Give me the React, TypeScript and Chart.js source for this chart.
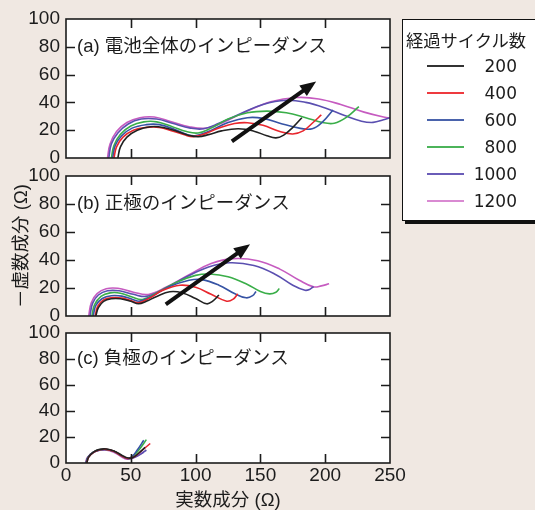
import React, { useEffect, useRef } from "react";
import { Chart, registerables } from "chart.js";

Chart.register(...registerables);

// ---------- data ----------
const cycles = ["200", "400", "600", "800", "1000", "1200"];
const lineColors = ["#222222", "#e8262d", "#3653a4", "#3aae49", "#5a4fb0", "#c65bc0"];
const legendColors = ["#333333", "#ee3a3f", "#4a63ac", "#4cb45a", "#6a5cb8", "#d98ad2"];

const xTicks = [0, 50, 100, 150, 200, 250];
const yTicks = [0, 20, 40, 60, 80, 100];

const panelLabels = ["(a) 電池全体のインピーダンス", "(b) 正極のインピーダンス", "(c) 負極のインピーダンス"];
const xTitle = "実数成分 (Ω)";
const yTitle = "－虚数成分 (Ω)";
const legendTitle = "経過サイクル数";

// (a) whole cell
const cell200 = [[40, 0], [42, 8], [47, 15], [55, 20], [65, 22.5], [75, 22], [86, 19], [95, 16.2], [102, 15.3], [110, 16.8], [120, 19.5], [133, 21], [145, 19.3], [155, 16], [162, 14.5], [168, 16.5], [175, 22], [182, 29]];
const cell400 = [[37, 0], [39, 8], [44, 15], [52, 20], [62, 22], [72, 22], [82, 19.5], [92, 16.5], [98, 15.4], [106, 17], [118, 21.5], [130, 24.8], [140, 25.4], [152, 23.5], [165, 19], [175, 17.3], [183, 19.5], [190, 25], [197, 31]];
const cell600 = [[36, 0], [38, 9], [43, 16], [51, 21.5], [62, 24], [72, 24], [84, 20.5], [93, 17], [99.5, 16], [110, 19], [125, 25.5], [140, 29], [152, 28.5], [165, 25], [180, 21.5], [190, 21], [198, 26], [206, 34.5]];
const cell800 = [[35, 0], [37, 9], [42, 17], [50, 23], [60, 26], [70, 26], [82, 22.5], [93, 19], [102, 18], [112, 21.5], [125, 28], [140, 32.5], [155, 33.7], [170, 32.5], [185, 29], [198, 25.5], [207, 25], [216, 29], [226, 37]];
const cell1000 = [[33, 0], [35, 10], [40, 18], [48, 24.5], [58, 28], [70, 28], [82, 25], [96, 21.5], [106, 21], [118, 25], [135, 32], [152, 38.5], [170, 41.5], [185, 40], [200, 36], [215, 30.5], [228, 26.5], [237, 25.6], [245, 27.5], [250, 29]];
const cell1200 = [[32, 0], [34, 10], [39, 19], [47, 25.5], [57, 29], [68, 29.5], [80, 26.5], [95, 22.5], [108, 21.4], [120, 25], [138, 33], [158, 40.5], [178, 43.5], [195, 42.5], [212, 38.5], [230, 33], [245, 29.5], [252, 28.5]];

// (b) positive electrode
const pos200 = [[23, 0], [25, 6], [29, 10.5], [35, 12.3], [42, 12.3], [50, 10.5], [56, 8.7], [62, 10.5], [70, 14], [80, 17.3], [90, 16.5], [100, 12.5], [108.5, 8.7], [113, 10.5], [118, 15]];
const pos400 = [[22.5, 0], [24.5, 7], [29, 11.5], [35, 13], [43, 12.8], [50, 11], [56, 9.5], [64, 12.5], [75, 18.5], [88, 22], [100, 20.5], [112, 15.5], [124, 10.6], [129, 12], [132.5, 15.8]];
const pos600 = [[21, 0], [23, 7.5], [28, 12.5], [35, 14.5], [43, 14.2], [51, 12], [57, 10.6], [66, 14], [80, 21], [95, 25.5], [105, 26], [118, 22], [130, 16], [139, 13], [144, 14.5], [146.6, 17.5]];
const pos800 = [[20, 0], [22, 8], [27, 14], [34, 16.5], [42, 16.3], [51, 13.5], [59, 11.8], [70, 16.5], [85, 24], [100, 29], [111, 30], [125, 28], [140, 22.5], [150, 17.5], [157, 15.8], [162, 17], [164.6, 19.6]];
const pos1000 = [[18.5, 0], [20.5, 9], [25, 15], [32, 18], [41, 18], [52, 15.5], [62, 14], [75, 19], [92, 27.5], [110, 35], [126.5, 38], [145, 36], [162, 29.5], [175, 22], [184.4, 18.4], [188, 19], [191, 21]];
const pos1200 = [[17.5, 0], [19.5, 9.5], [24, 16], [31, 19.5], [40, 19.8], [52, 17], [63.5, 15.4], [77, 20.5], [95, 29.5], [112, 37.5], [129, 41], [148, 39.5], [165, 33.5], [180, 25.5], [191, 20.8], [197, 21.5], [203, 23]];

// (c) negative electrode
const neg200 = [[16, 0], [17.5, 4.5], [21.5, 8.5], [26, 10.5], [31, 10.8], [37, 9.3], [43, 6], [48, 3.8], [52, 4.5], [56, 7.5], [61, 12]];
const neg400 = [[16, 0], [17.5, 4.5], [21.5, 8.3], [26, 10.2], [31, 10.5], [37, 9], [43, 5.5], [48, 3.5], [53, 5], [59, 10], [65, 15]];
const neg600 = [[15.5, 0], [17, 4.5], [21, 8.3], [26, 10.2], [31, 10.5], [37, 9], [43, 5.5], [47.5, 3.5], [51, 5], [55, 10], [60, 17.5]];
const neg800 = [[15.5, 0], [17, 4.5], [21, 8.3], [26, 10.2], [31, 10.5], [37, 9], [43, 5.5], [48, 3.5], [52, 5.5], [57, 11], [62, 18]];
const neg1000 = [[15.5, 0], [17, 4.3], [21, 8], [26, 9.8], [31, 10.2], [37, 8.8], [43, 5.5], [48, 3.3], [53, 4.5], [58, 7], [62, 10]];
const neg1200 = [[15, 0], [16.5, 4.3], [20.5, 8], [25.5, 9.8], [30.5, 10], [36.5, 8.5], [42.5, 5], [47, 3], [52, 4], [56, 6], [60, 8.5]];

// trend arrows [start, tip]
const arrowCell = [[128, 12], [193, 55]];
const arrowPos = [[77, 8.3], [142, 51.3]];

// ---------- layout ----------
const W = 535;
const H = 510;
const PLOT_LEFT = 66;
const PLOT_RIGHT = 390;
const panels = [
  { top: 19, bottom: 158, curves: [cell200, cell400, cell600, cell800, cell1000, cell1200], label: panelLabels[0], arrow: arrowCell, showX: false, showYTitle: false },
  { top: 176, bottom: 316, curves: [pos200, pos400, pos600, pos800, pos1000, pos1200], label: panelLabels[1], arrow: arrowPos, showX: false, showYTitle: true },
  { top: 333, bottom: 463, curves: [neg200, neg400, neg600, neg800, neg1000, neg1200], label: panelLabels[2], arrow: null, showX: true, showYTitle: false },
];

const TICK_FONT = { family: '"Liberation Sans", Arial, sans-serif', size: 19 };
const CJK_FAMILY = '"Liberation Sans", "Noto Sans CJK JP", sans-serif';
const INK = "#1c1c1c";

const framePlugin = {
  id: "frame",
  beforeDatasetsDraw(chart: any) {
    const { ctx, chartArea: ca } = chart;
    ctx.save();
    ctx.fillStyle = "#ffffff";
    ctx.fillRect(ca.left, ca.top, ca.right - ca.left, ca.bottom - ca.top);
    ctx.restore();
  },
  afterDatasetsDraw(chart: any, _args: any, opts: any) {
    const { ctx, chartArea: ca } = chart;
    const xs = chart.scales.x;
    const ys = chart.scales.y;
    ctx.save();
    // arrow
    if (opts.arrow) {
      const x0 = xs.getPixelForValue(opts.arrow[0][0]);
      const y0 = ys.getPixelForValue(opts.arrow[0][1]);
      const x1 = xs.getPixelForValue(opts.arrow[1][0]);
      const y1 = ys.getPixelForValue(opts.arrow[1][1]);
      const ang = Math.atan2(y1 - y0, x1 - x0);
      const hl = 16;
      const hw = 6.5;
      const c = Math.cos(ang);
      const s = Math.sin(ang);
      const bx = x1 - hl * c;
      const by = y1 - hl * s;
      ctx.strokeStyle = "#111";
      ctx.fillStyle = "#111";
      ctx.lineWidth = 4;
      ctx.lineCap = "butt";
      ctx.beginPath();
      ctx.moveTo(x0, y0);
      ctx.lineTo(bx + 2 * c, by + 2 * s);
      ctx.stroke();
      ctx.beginPath();
      ctx.moveTo(x1, y1);
      ctx.lineTo(bx + hw * s, by - hw * c);
      ctx.lineTo(bx - hw * s, by + hw * c);
      ctx.closePath();
      ctx.fill();
    }
    // frame
    ctx.strokeStyle = INK;
    ctx.lineWidth = 1.6;
    ctx.strokeRect(ca.left, ca.top, ca.right - ca.left, ca.bottom - ca.top);
    const tl = 9;
    ctx.beginPath();
    xTicks.slice(1, -1).forEach((v) => {
      const px = Math.round(xs.getPixelForValue(v)) + 0.5;
      ctx.moveTo(px, ca.bottom);
      ctx.lineTo(px, ca.bottom - tl);
      ctx.moveTo(px, ca.top);
      ctx.lineTo(px, ca.top + tl);
    });
    yTicks.slice(1, -1).forEach((v) => {
      const py = Math.round(ys.getPixelForValue(v)) + 0.5;
      ctx.moveTo(ca.left, py);
      ctx.lineTo(ca.left + tl, py);
      ctx.moveTo(ca.right, py);
      ctx.lineTo(ca.right - tl, py);
    });
    ctx.stroke();
    // panel label
    ctx.fillStyle = INK;
    ctx.font = `18.5px ${CJK_FAMILY}`;
    ctx.textBaseline = "middle";
    ctx.textAlign = "left";
    ctx.fillText(opts.label, ca.left + 11, ys.getPixelForValue(80));
    ctx.restore();
  },
};

function makeConfig(p: any): any {
  return {
    type: "scatter",
    data: {
      datasets: p.curves.map((pts: number[][], i: number) => ({
        label: cycles[i],
        data: pts.map(([x, y]) => ({ x, y })),
        showLine: true,
        borderColor: lineColors[i],
        backgroundColor: lineColors[i],
        borderWidth: 1.6,
        pointRadius: 0,
        tension: 0.4,
        fill: false,
      })),
    },
    options: {
      animation: false,
      responsive: false,
      maintainAspectRatio: false,
      events: [],
      layout: {
        padding: { left: 0, right: W - PLOT_RIGHT, top: p.top, bottom: p.showX ? 0 : H - p.bottom },
      },
      plugins: {
        legend: { display: false },
        tooltip: { enabled: false },
        frame: { label: p.label, arrow: p.arrow },
      },
      scales: {
        x: {
          type: "linear",
          min: 0,
          max: 250,
          ticks: { display: p.showX, stepSize: 50, padding: 1, font: TICK_FONT, color: INK, maxRotation: 0 },
          grid: { display: false, drawTicks: false },
          border: { display: false },
          title: {
            display: p.showX,
            text: xTitle,
            color: INK,
            font: { family: CJK_FAMILY, size: 18.5, lineHeight: 1 },
            padding: { top: 0, bottom: 0 },
          },
          afterFit: (s: any) => {
            s.height = p.showX ? H - p.bottom : 0;
          },
        },
        y: {
          type: "linear",
          min: 0,
          max: 100,
          ticks: { stepSize: 20, padding: 6, font: TICK_FONT, color: INK },
          grid: { display: false, drawTicks: false },
          border: { display: false },
          title: {
            display: p.showYTitle,
            text: yTitle,
            color: INK,
            font: { family: CJK_FAMILY, size: 18.5 },
            padding: { top: 11, bottom: 0 },
          },
          afterFit: (s: any) => {
            s.width = PLOT_LEFT;
          },
        },
      },
    },
    plugins: [framePlugin],
  };
}

function Panel({ p }: { p: any }) {
  const ref = useRef<HTMLCanvasElement | null>(null);
  useEffect(() => {
    if (!ref.current) return;
    const chart = new Chart(ref.current, makeConfig(p));
    return () => chart.destroy();
  }, [p]);
  return (
    <canvas
      ref={ref}
      width={W}
      height={H}
      style={{ position: "absolute", left: 0, top: 0, width: W, height: H, pointerEvents: "none" }}
    />
  );
}

function Legend() {
  const rowTops = [46, 73, 100, 127, 154, 181];
  return (
    <div
      style={{
        position: "absolute",
        left: 402,
        top: 19,
        width: 145,
        height: 200,
        background: "#ffffff",
        border: "1.5px solid #111",
        boxShadow: "3px 3px 0 #111",
        fontFamily: '"DejaVu Sans", "Noto Sans CJK JP", sans-serif',
        fontSize: 17,
        color: INK,
      }}
    >
      <div style={{ position: "absolute", left: 3, top: 19, transform: "translateY(-50%)", whiteSpace: "nowrap", fontFamily: '"Noto Sans CJK JP", sans-serif', fontSize: 17.3 }}>
        {legendTitle}
      </div>
      {cycles.map((c, i) => (
        <div key={c}>
          <div
            style={{
              position: "absolute",
              left: 24,
              top: rowTops[i] - 0.75,
              width: 37,
              height: 1.5,
              background: legendColors[i],
            }}
          />
          <div
            style={{
              position: "absolute",
              left: 60,
              width: 54,
              top: rowTops[i],
              transform: "translateY(-50%)",
              textAlign: "right",
              lineHeight: "20px",
            }}
          >
            {c}
          </div>
        </div>
      ))}
    </div>
  );
}

export default function App() {
  return (
    <div
      style={{
        position: "fixed",
        left: 0,
        top: 0,
        width: W,
        height: H,
        background: "#f0e8e2",
        overflow: "hidden",
      }}
    >
      {panels.map((p, i) => (
        <Panel key={i} p={p} />
      ))}
      <Legend />
    </div>
  );
}
